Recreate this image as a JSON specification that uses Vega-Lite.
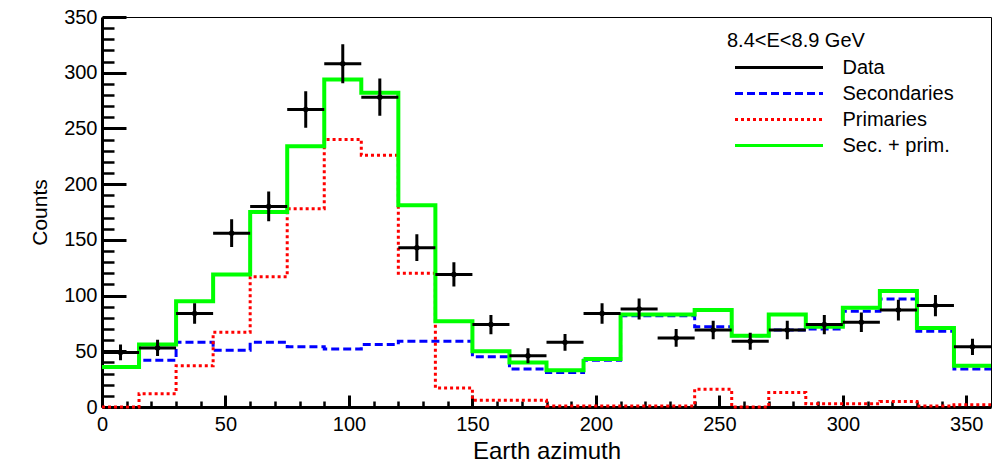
{
  "$schema": "https://vega.github.io/schema/vega-lite/v6.json",
  "width": 889,
  "height": 390,
  "autosize": {"type": "none"},
  "padding": {"left": 102, "top": 17, "right": 9, "bottom": 58},
  "background": "white",
  "config": {
    "view": {"stroke": "black", "strokeWidth": 1},
    "font": "Liberation Sans",
    "axis": {
      "grid": false,
      "labelFont": "Liberation Sans",
      "titleFont": "Liberation Sans",
      "labelColor": "black",
      "titleColor": "black",
      "titleFontWeight": "normal",
      "domainColor": "black",
      "tickColor": "black",
      "labelFlush": false,
      "labelOverlap": false
    }
  },
  "datasets": {
    "sec": [
      {"series": "Secondaries", "az": 0, "count": 36},
      {"series": "Secondaries", "az": 15, "count": 42},
      {"series": "Secondaries", "az": 30, "count": 58},
      {"series": "Secondaries", "az": 45, "count": 51},
      {"series": "Secondaries", "az": 60, "count": 58},
      {"series": "Secondaries", "az": 75, "count": 54},
      {"series": "Secondaries", "az": 90, "count": 52},
      {"series": "Secondaries", "az": 105, "count": 56},
      {"series": "Secondaries", "az": 120, "count": 59},
      {"series": "Secondaries", "az": 135, "count": 59},
      {"series": "Secondaries", "az": 150, "count": 45},
      {"series": "Secondaries", "az": 165, "count": 34},
      {"series": "Secondaries", "az": 180, "count": 31},
      {"series": "Secondaries", "az": 195, "count": 42},
      {"series": "Secondaries", "az": 210, "count": 82},
      {"series": "Secondaries", "az": 225, "count": 82},
      {"series": "Secondaries", "az": 240, "count": 72},
      {"series": "Secondaries", "az": 255, "count": 64},
      {"series": "Secondaries", "az": 270, "count": 69},
      {"series": "Secondaries", "az": 285, "count": 70},
      {"series": "Secondaries", "az": 300, "count": 86},
      {"series": "Secondaries", "az": 315, "count": 97},
      {"series": "Secondaries", "az": 330, "count": 68},
      {"series": "Secondaries", "az": 345, "count": 34},
      {"series": "Secondaries", "az": 360, "count": 34}
    ],
    "prim": [
      {"series": "Primaries", "az": 0, "count": 0},
      {"series": "Primaries", "az": 15, "count": 12},
      {"series": "Primaries", "az": 30, "count": 37},
      {"series": "Primaries", "az": 45, "count": 67},
      {"series": "Primaries", "az": 60, "count": 117},
      {"series": "Primaries", "az": 75, "count": 178},
      {"series": "Primaries", "az": 90, "count": 240},
      {"series": "Primaries", "az": 105, "count": 226},
      {"series": "Primaries", "az": 120, "count": 120},
      {"series": "Primaries", "az": 135, "count": 17},
      {"series": "Primaries", "az": 150, "count": 6},
      {"series": "Primaries", "az": 165, "count": 6},
      {"series": "Primaries", "az": 180, "count": 1},
      {"series": "Primaries", "az": 195, "count": 1},
      {"series": "Primaries", "az": 210, "count": 1},
      {"series": "Primaries", "az": 225, "count": 1},
      {"series": "Primaries", "az": 240, "count": 16},
      {"series": "Primaries", "az": 255, "count": 0},
      {"series": "Primaries", "az": 270, "count": 13},
      {"series": "Primaries", "az": 285, "count": 3},
      {"series": "Primaries", "az": 300, "count": 3},
      {"series": "Primaries", "az": 315, "count": 5},
      {"series": "Primaries", "az": 330, "count": 1},
      {"series": "Primaries", "az": 345, "count": 2},
      {"series": "Primaries", "az": 360, "count": 2}
    ],
    "sum": [
      {"series": "Sec. + prim.", "az": 0, "count": 36},
      {"series": "Sec. + prim.", "az": 15, "count": 56},
      {"series": "Sec. + prim.", "az": 30, "count": 95},
      {"series": "Sec. + prim.", "az": 45, "count": 119},
      {"series": "Sec. + prim.", "az": 60, "count": 175},
      {"series": "Sec. + prim.", "az": 75, "count": 234},
      {"series": "Sec. + prim.", "az": 90, "count": 294},
      {"series": "Sec. + prim.", "az": 105, "count": 282},
      {"series": "Sec. + prim.", "az": 120, "count": 181},
      {"series": "Sec. + prim.", "az": 135, "count": 77},
      {"series": "Sec. + prim.", "az": 150, "count": 50},
      {"series": "Sec. + prim.", "az": 165, "count": 40},
      {"series": "Sec. + prim.", "az": 180, "count": 33},
      {"series": "Sec. + prim.", "az": 195, "count": 43},
      {"series": "Sec. + prim.", "az": 210, "count": 83},
      {"series": "Sec. + prim.", "az": 225, "count": 83},
      {"series": "Sec. + prim.", "az": 240, "count": 87},
      {"series": "Sec. + prim.", "az": 255, "count": 64},
      {"series": "Sec. + prim.", "az": 270, "count": 83},
      {"series": "Sec. + prim.", "az": 285, "count": 72},
      {"series": "Sec. + prim.", "az": 300, "count": 89},
      {"series": "Sec. + prim.", "az": 315, "count": 104},
      {"series": "Sec. + prim.", "az": 330, "count": 71},
      {"series": "Sec. + prim.", "az": 345, "count": 37},
      {"series": "Sec. + prim.", "az": 360, "count": 37}
    ],
    "data": [
      {"series": "Data", "az": 7.5, "az_lo": 0, "az_hi": 15, "count": 49, "lo": 42.0, "hi": 56.0},
      {"series": "Data", "az": 22.5, "az_lo": 15, "az_hi": 30, "count": 53, "lo": 45.7, "hi": 60.3},
      {"series": "Data", "az": 37.5, "az_lo": 30, "az_hi": 45, "count": 84, "lo": 74.8, "hi": 93.2},
      {"series": "Data", "az": 52.5, "az_lo": 45, "az_hi": 60, "count": 156, "lo": 143.5, "hi": 168.5},
      {"series": "Data", "az": 67.5, "az_lo": 60, "az_hi": 75, "count": 180, "lo": 166.6, "hi": 193.4},
      {"series": "Data", "az": 82.5, "az_lo": 75, "az_hi": 90, "count": 267, "lo": 250.7, "hi": 283.3},
      {"series": "Data", "az": 97.5, "az_lo": 90, "az_hi": 105, "count": 308, "lo": 290.5, "hi": 325.5},
      {"series": "Data", "az": 112.5, "az_lo": 105, "az_hi": 120, "count": 278, "lo": 261.3, "hi": 294.7},
      {"series": "Data", "az": 127.5, "az_lo": 120, "az_hi": 135, "count": 143, "lo": 131.0, "hi": 155.0},
      {"series": "Data", "az": 142.5, "az_lo": 135, "az_hi": 150, "count": 119, "lo": 108.1, "hi": 129.9},
      {"series": "Data", "az": 157.5, "az_lo": 150, "az_hi": 165, "count": 74, "lo": 65.4, "hi": 82.6},
      {"series": "Data", "az": 172.5, "az_lo": 165, "az_hi": 180, "count": 46, "lo": 39.2, "hi": 52.8},
      {"series": "Data", "az": 187.5, "az_lo": 180, "az_hi": 195, "count": 58, "lo": 50.4, "hi": 65.6},
      {"series": "Data", "az": 202.5, "az_lo": 195, "az_hi": 210, "count": 84, "lo": 74.8, "hi": 93.2},
      {"series": "Data", "az": 217.5, "az_lo": 210, "az_hi": 225, "count": 88, "lo": 78.6, "hi": 97.4},
      {"series": "Data", "az": 232.5, "az_lo": 225, "az_hi": 240, "count": 62, "lo": 54.1, "hi": 69.9},
      {"series": "Data", "az": 247.5, "az_lo": 240, "az_hi": 255, "count": 69, "lo": 60.7, "hi": 77.3},
      {"series": "Data", "az": 262.5, "az_lo": 255, "az_hi": 270, "count": 59, "lo": 51.3, "hi": 66.7},
      {"series": "Data", "az": 277.5, "az_lo": 270, "az_hi": 285, "count": 69, "lo": 60.7, "hi": 77.3},
      {"series": "Data", "az": 292.5, "az_lo": 285, "az_hi": 300, "count": 74, "lo": 65.4, "hi": 82.6},
      {"series": "Data", "az": 307.5, "az_lo": 300, "az_hi": 315, "count": 76, "lo": 67.3, "hi": 84.7},
      {"series": "Data", "az": 322.5, "az_lo": 315, "az_hi": 330, "count": 87, "lo": 77.7, "hi": 96.3},
      {"series": "Data", "az": 337.5, "az_lo": 330, "az_hi": 345, "count": 91, "lo": 81.5, "hi": 100.5},
      {"series": "Data", "az": 352.5, "az_lo": 345, "az_hi": 360, "count": 54, "lo": 46.7, "hi": 61.3}
    ]
  },
  "resolve": {"axis": {"x": "independent", "y": "independent"}},
  "layer": [
    {
      "data": {"name": "sec"},
      "mark": {"type": "line", "interpolate": "step-after"},
      "encoding": {
        "x": {
          "field": "az", "type": "quantitative",
          "scale": {"domain": [0, 360], "nice": false, "zero": false},
          "axis": {
            "orient": "bottom", "title": "Earth azimuth", "values": [0, 50, 100, 150, 200, 250, 300, 350],
            "ticks": false, "domain": true, "domainWidth": 3, "labelFontSize": 20, "labelPadding": 7,
            "titleFontSize": 24, "titlePadding": 5
          }
        },
        "y": {
          "field": "count", "type": "quantitative",
          "scale": {"domain": [0, 350], "nice": false},
          "axis": {
            "orient": "left", "title": "Counts", "values": [0, 50, 100, 150, 200, 250, 300, 350],
            "ticks": false, "domain": true, "domainWidth": 3, "labelFontSize": 20, "labelPadding": 5,
            "titleFontSize": 21, "titlePadding": 13
          }
        },
        "color": {
          "field": "series", "type": "nominal",
          "scale": {"domain": ["Data", "Secondaries", "Primaries", "Sec. + prim."], "range": ["black", "#0000ff", "#ff0000", "#00ff00"]},
          "legend": {
            "title": "8.4<E<8.9 GeV", "orient": "none", "legendX": 625, "legendY": 14, "padding": 0,
            "titleFontSize": 20, "titleFont": "Liberation Sans", "titleFontWeight": "normal", "titleColor": "black", "titlePadding": 4,
            "labelFontSize": 20, "labelFont": "Liberation Sans", "labelColor": "black",
            "symbolType": "M-4,0H4", "symbolSize": 484, "symbolStrokeWidth": 3, "symbolOffset": 39.5, "labelOffset": 51, "rowPadding": 3
          }
        },
        "strokeDash": {
          "field": "series", "type": "nominal",
          "scale": {"domain": ["Data", "Secondaries", "Primaries", "Sec. + prim."], "range": [[1, 0], [8, 4], [3, 3], [1, 0]]},
          "legend": {
            "title": "8.4<E<8.9 GeV", "orient": "none", "legendX": 625, "legendY": 14, "padding": 0,
            "titleFontSize": 20, "titleFont": "Liberation Sans", "titleFontWeight": "normal", "titleColor": "black", "titlePadding": 4,
            "labelFontSize": 20, "labelFont": "Liberation Sans", "labelColor": "black",
            "symbolType": "M-4,0H4", "symbolSize": 484, "symbolStrokeWidth": 3, "symbolOffset": 39.5, "labelOffset": 51, "rowPadding": 3
          }
        },
        "strokeWidth": {"value": 3}
      }
    },
    {
      "data": {"name": "prim"},
      "mark": {"type": "line", "interpolate": "step-after"},
      "encoding": {
        "x": {
          "field": "az", "type": "quantitative",
          "axis": {"orient": "bottom", "title": null, "values": [0, 50, 100, 150, 200, 250, 300, 350], "labels": false, "domain": false, "ticks": true, "tickSize": -12, "tickWidth": 3}
        },
        "y": {
          "field": "count", "type": "quantitative",
          "axis": {"orient": "left", "title": null, "values": [0, 50, 100, 150, 200, 250, 300, 350], "labels": false, "domain": false, "ticks": true, "tickSize": -24, "tickWidth": 3}
        },
        "color": {"field": "series", "type": "nominal"},
        "strokeDash": {"field": "series", "type": "nominal"},
        "strokeWidth": {"value": 3}
      }
    },
    {
      "data": {"name": "sum"},
      "mark": {"type": "line", "interpolate": "step-after"},
      "encoding": {
        "x": {
          "field": "az", "type": "quantitative",
          "axis": {"orient": "bottom", "title": null, "values": [10, 20, 30, 40, 60, 70, 80, 90, 110, 120, 130, 140, 160, 170, 180, 190, 210, 220, 230, 240, 260, 270, 280, 290, 310, 320, 330, 340], "labels": false, "domain": false, "ticks": true, "tickSize": -6, "tickWidth": 2.5}
        },
        "y": {
          "field": "count", "type": "quantitative",
          "axis": {"orient": "left", "title": null, "values": [10, 20, 30, 40, 60, 70, 80, 90, 110, 120, 130, 140, 160, 170, 180, 190, 210, 220, 230, 240, 260, 270, 280, 290, 310, 320, 330, 340], "labels": false, "domain": false, "ticks": true, "tickSize": -12, "tickWidth": 2.5}
        },
        "color": {"field": "series", "type": "nominal"},
        "strokeDash": {"field": "series", "type": "nominal"},
        "strokeWidth": {"value": 4}
      }
    },
    {
      "data": {"name": "data"},
      "mark": {"type": "rule", "strokeWidth": 3},
      "encoding": {
        "x": {"field": "az_lo", "type": "quantitative", "axis": null},
        "x2": {"field": "az_hi"},
        "y": {"field": "count", "type": "quantitative", "axis": null},
        "color": {"field": "series", "type": "nominal"},
        "strokeDash": {"field": "series", "type": "nominal"}
      }
    },
    {
      "data": {"name": "data"},
      "mark": {"type": "rule", "strokeWidth": 3},
      "encoding": {
        "x": {"field": "az", "type": "quantitative", "axis": null},
        "y": {"field": "lo", "type": "quantitative", "axis": null},
        "y2": {"field": "hi"},
        "color": {"field": "series", "type": "nominal"},
        "strokeDash": {"field": "series", "type": "nominal"}
      }
    },
    {
      "data": {"name": "data"},
      "mark": {"type": "point", "filled": true, "shape": "circle", "size": 30, "opacity": 1},
      "encoding": {
        "x": {"field": "az", "type": "quantitative", "axis": null},
        "y": {"field": "count", "type": "quantitative", "axis": null},
        "color": {"field": "series", "type": "nominal"}
      }
    }
  ]
}
